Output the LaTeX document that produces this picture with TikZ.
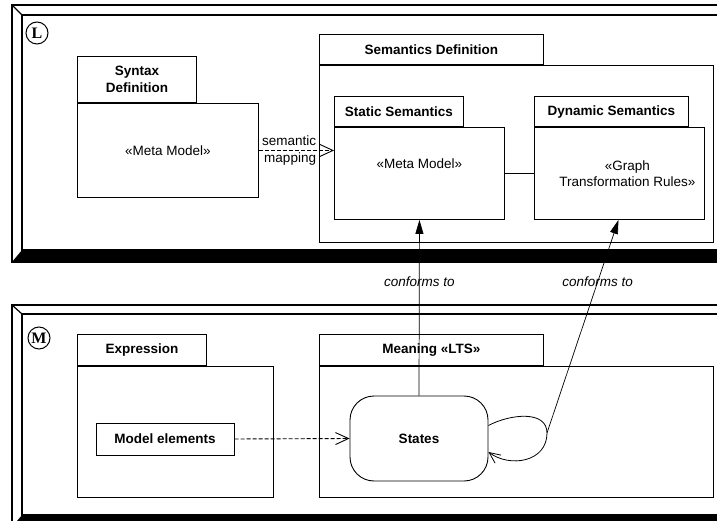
\documentclass[tikz,border=0pt]{standalone}
\usepackage{fontspec}
\setmainfont{Liberation Sans}
\newfontfamily\markfont{Liberation Serif}
\usetikzlibrary{positioning,arrows.meta}
\newcommand{\dsz}{\fontsize{13.5}{16.5}\selectfont}
\begin{document}
\begin{tikzpicture}[x=1pt,y=-1pt,
    frameline/.style={line width=1.2pt},
    pkgbody/.style={draw,rectangle,line width=0.9pt,inner sep=0pt,anchor=north west,font=\dsz,align=center},
    pkgtab/.style={draw,rectangle,line width=0.9pt,inner sep=0pt,anchor=south west,font=\dsz\bfseries,align=center},
    levelmark/.style={draw,circle,line width=1pt,minimum size=22pt,inner sep=0pt,font=\markfont\fontsize{16}{16}\bfseries},
    depline/.style={dash pattern=on 4pt off 2pt,line width=0.9pt,-{Straight Barb[length=13pt,width=12pt]}},
    conformline/.style={line width=0.7pt,-{Triangle[length=14pt,width=8pt]}},
    every node/.style={font=\dsz}]
    \useasboundingbox (0,0) rectangle (717,521);
    \clip (0,0) rectangle (717,521);
    %% Frame L
    \draw[frameline] (12,5) rectangle (740,262);
    \draw[frameline] (22,15) rectangle (740,250);
    \draw[frameline] (12,5) -- (22,15);
    \fill (12,262) -- (22,250) -- (740,250) -- (740,262) -- cycle;
    \node[levelmark] (lmark) at (37,33) {L};
    %% Frame M
    \draw[frameline] (12,305) rectangle (740,527);
    \draw[frameline] (22,314) rectangle (740,515);
    \draw[frameline] (12,305) -- (22,314);
    \fill (12,527) -- (22,515) -- (740,515) -- (740,527) -- cycle;
    \node[levelmark] (mmark) at (39,338) {M};
    %% Syntax
    \node[pkgbody,minimum width=181pt,minimum height=94pt] (synbody) at (77,103) {«Meta Model»};
    \node[pkgtab,minimum width=119pt,minimum height=46pt] (syntab) at (synbody.north west) {Syntax\\Definition};
    %% Semantics
    \node[pkgbody,minimum width=394pt,minimum height=177pt] (sembody) at (319,65) {};
    \node[pkgtab,minimum width=224pt,minimum height=30pt] (semtab) at (sembody.north west) {Semantics Definition};
    \node[pkgbody,minimum width=170pt,minimum height=92pt] (static) at (334,127) {};
    \node[pkgtab,minimum width=129pt,minimum height=30pt] (statictab) at (static.north west) {Static Semantics};
    \node (statictext) at ([yshift=10pt]static.center) {«Meta Model»};
    \node[pkgbody,minimum width=170pt,minimum height=92pt] (dynamic) at (534,127) {};
    \node[pkgtab,minimum width=154pt,minimum height=30pt] (dyntab) at (dynamic.north west) {Dynamic Semantics};
    \node[align=center] (dyntext) at ([xshift=8pt]dynamic.center) {«Graph\\Transformation Rules»};
    \draw[line width=0.9pt] (static.east) -- (dynamic.west);
    \draw[depline] (synbody.east) -- (synbody.east -| static.west)
        node[pos=0.78,anchor=east,align=right,inner sep=1pt] {semantic\\mapping};
    %% Expression
    \node[pkgbody,minimum width=196pt,minimum height=131pt] (exprbody) at (77,366) {};
    \node[pkgtab,minimum width=129pt,minimum height=31pt] (exprtab) at (exprbody.north west) {Expression};
    \node[draw,line width=1pt,minimum width=138pt,minimum height=32pt,font=\dsz\bfseries] (model) at (165,439) {Model elements};
    %% Meaning
    \node[pkgbody,minimum width=394pt,minimum height=131pt] (meanbody) at (319,366) {};
    \node[pkgtab,minimum width=224pt,minimum height=31pt] (meantab) at (meanbody.north west) {Meaning «LTS»};
    \node[draw,line width=0.9pt,rounded corners=24pt,minimum width=138pt,minimum height=85pt,font=\dsz\bfseries] (states) at (419,438.5) {States};
    \draw[depline] (model.east) -- (states.west);
    %% Loop and conformance
    \coordinate (loop) at (547,433);
    \draw[line width=0.8pt,-{Straight Barb[length=11pt,width=10pt]}] ([yshift=13pt]states.east)
        .. controls (510,414) and (547,410) .. (loop)
        .. controls (547,462) and (510,468) .. ([yshift=-13.5pt]states.east);
    \draw[conformline] (states.north) -- (static.south) node[pos=0.65,font=\dsz\itshape] {conforms to};
    \draw[conformline] (loop) -- ([xshift=-1pt]dynamic.south) node[pos=0.71,font=\dsz\itshape] {conforms to};
\end{tikzpicture}
\end{document}
